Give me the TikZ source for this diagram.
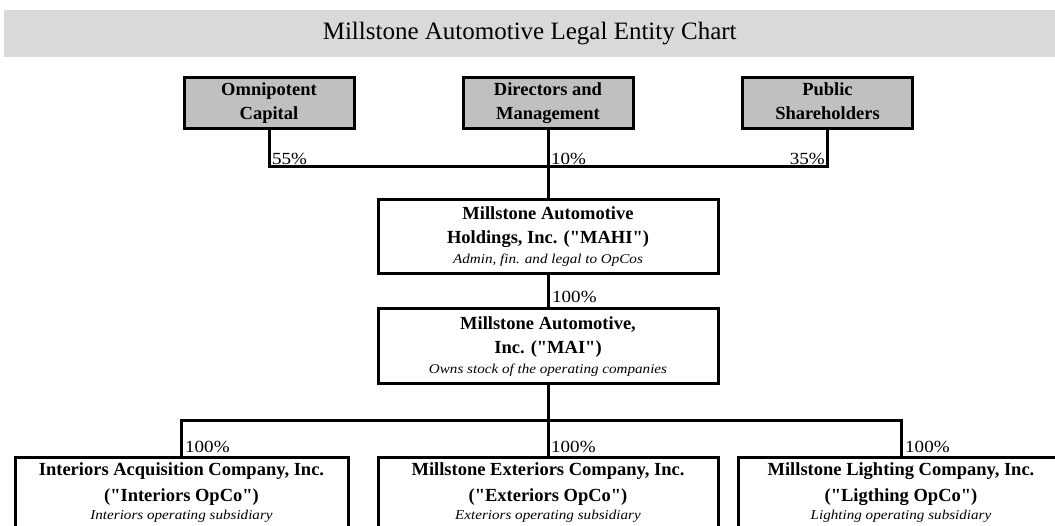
\documentclass[tikz,border=0pt]{standalone}
\usepackage{fontspec}
\setmainfont{Liberation Serif}[Ligatures=TeXOff]
\newfontfamily\subfont[FakeStretch=1.12,Ligatures=TeXOff]{Liberation Serif}
\definecolor{banner}{HTML}{D9D9D9}
\definecolor{boxgray}{HTML}{C0C0C0}
\tikzset{
  conn/.style={line width=3pt},
  ent/.style={draw, line width=3pt, inner sep=0pt, align=center,
    font=\bfseries\fontsize{18.5}{24}\selectfont},
  topbox/.style={ent, fill=boxgray, minimum width=170pt, minimum height=51pt,
    execute at begin node={\rule{0pt}{16pt}}, execute at end node={\rule[-5pt]{0pt}{5pt}}},
  midbox/.style={ent, fill=white, minimum width=340pt, minimum height=75pt},
  botbox/.style={ent, fill=white, minimum height=72pt, font=\bfseries\fontsize{18.5}{26}\selectfont},
  pct/.style={inner sep=0pt, font=\subfont\fontsize{17}{20}\selectfont},
}
\newcommand{\sub}[1]{{\subfont\itshape\mdseries\fontsize{13.5}{16}\selectfont #1}}
\begin{document}
\begin{tikzpicture}[x=1pt,y=-1pt]
\useasboundingbox (0,0) rectangle (1055,526);
\clip (0,0) rectangle (1055,526);
% title banner
\node[fill=banner, minimum width=1051pt, minimum height=47pt, inner sep=0pt,
  font=\fontsize{25}{30}\selectfont, anchor=north west] (title) at (4,10)
  {Millstone Automotive Legal Entity Chart};
% shareholders
\node[topbox] (omni) at (269,103.5) {Omnipotent\\Capital};
\node[topbox] (dir) at (548,103.5) {Directors and\\Management};
\node[topbox] (pub) at (827.5,103.5) {Public\\Shareholders};
% holdings
\node[midbox, minimum height=74pt] (mahi) at (548,237) {Millstone Automotive\\Holdings, Inc. ("MAHI")\\[-4pt]\sub{Admin, fin. and legal to OpCos}};
\node[midbox] (mai) at (548,346.5) {Millstone Automotive,\\Inc. ("MAI")\\[-4pt]\sub{Owns stock of the operating companies}};
% opcos
\node[botbox, minimum width=333pt] (inter) at (181.5,493) {Interiors Acquisition Company, Inc.\\("Interiors OpCo")\\[-8pt]\sub{Interiors operating subsidiary}};
\node[botbox, minimum width=340pt] (exter) at (548,493) {Millstone Exteriors Company, Inc.\\("Exteriors OpCo")\\[-8pt]\sub{Exteriors operating subsidiary}};
\node[botbox, minimum width=326pt] (light) at (901,493) {Millstone Lighting Company, Inc.\\("Ligthing OpCo")\\[-8pt]\sub{Lighting operating subsidiary}};
% connectors
\coordinate (jt) at (548,167);
\coordinate (jb) at (548,421);
\draw[conn] (omni.south) |- (jt) -| (pub.south);
\draw[conn] (dir.south) -- (mahi.north);
\draw[conn] (mahi.south) -- (mai.north);
\draw[conn] (mai.south) -- (jb) -- (exter.north);
\draw[conn] (inter.north) |- (jb) -| (light.north);
% percentages
\node[pct, anchor=base west] (p55) at (272,165) {55\%};
\node[pct, anchor=base west] (p10) at (551,165) {10\%};
\node[pct, anchor=base east] (p35) at (825,165) {35\%};
\node[pct, anchor=base west] (p100a) at (552,303) {100\%};
\node[pct, anchor=base west] (p100b) at (185,452) {100\%};
\node[pct, anchor=base west] (p100c) at (551,452) {100\%};
\node[pct, anchor=base west] (p100d) at (905,452) {100\%};
\end{tikzpicture}
\end{document}
